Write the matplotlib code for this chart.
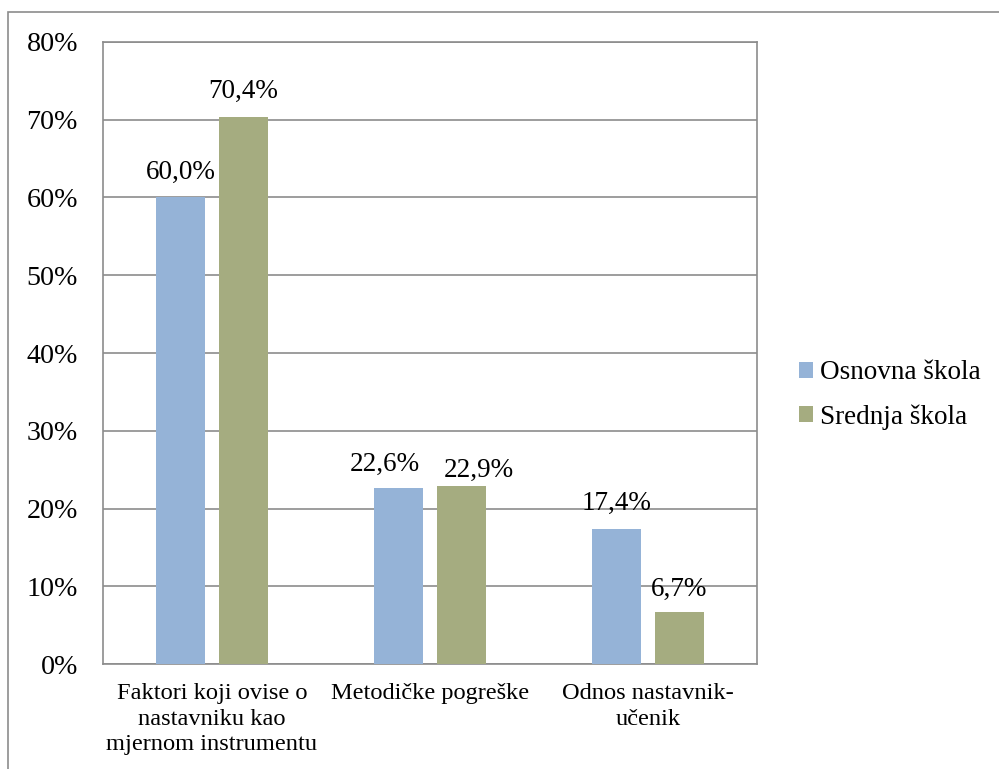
import numpy as np
import matplotlib.pyplot as plt
from matplotlib.patches import Rectangle

plt.rcParams['font.family'] = ['Liberation Serif', 'DejaVu Serif']

categories = ['Faktori koji ovise o\nnastavniku kao\nmjernom instrumentu',
              'Metodičke pogreške',
              'Odnos nastavnik-\nučenik']
osnovna = [60.0, 22.6, 17.4]
srednja = [70.4, 22.9, 6.7]
series_names = ['Osnovna škola', 'Srednja škola']
colors = ['#95B3D7', '#A5AC80']

# label nudges in points (the middle pair is pushed apart so they don't collide)
nudge_osn = [(0, 18), (-10, 17), (0, 18)]
nudge_sre = [(0, 18), (13, 11), (0, 16)]

fig = plt.figure(figsize=(9.99, 7.69), dpi=100)
ax = fig.add_axes([0.1031, 0.1365, 0.6547, 0.8089])

# outer chart border
fig.patches.append(Rectangle((8 / 999, -0.1), 1.2, 1 - 12 / 769 + 0.1,
                             transform=fig.transFigure, fill=False,
                             edgecolor='#8c8c8c', linewidth=1.2))

x = np.arange(len(categories))
w = 0.225
gap = 0.06
off = (w + gap) / 2
b1 = ax.bar(x - off, osnovna, w, color=colors[0], label=series_names[0], zorder=3)
b2 = ax.bar(x + off, srednja, w, color=colors[1], label=series_names[1], zorder=3)

for bars, vals, nudges in ((b1, osnovna, nudge_osn), (b2, srednja, nudge_sre)):
    for b, v, n in zip(bars, vals, nudges):
        ax.annotate(f'{v:.1f}%'.replace('.', ','),
                    (b.get_x() + b.get_width() / 2, v),
                    xytext=n, textcoords='offset points',
                    ha='center', va='center', fontsize=19.5)

ax.set_xlim(-0.5, 2.5)
ax.set_ylim(0, 80)
ax.set_yticks(np.arange(0, 81, 10))
ax.set_yticklabels([f'{t}%' for t in range(0, 81, 10)], fontsize=20.2)
ax.set_xticks(x)
ax.set_xticklabels(categories, fontsize=17.6, linespacing=1.27)
ax.tick_params(axis='both', length=0)
ax.tick_params(axis='y', pad=18)
ax.tick_params(axis='x', pad=14)
ax.grid(axis='y', color='#8c8c8c', linewidth=1.2, zorder=0)
for s in ax.spines.values():
    s.set_color('#8c8c8c')
    s.set_linewidth(1.2)

ax.legend(loc='center left', bbox_to_anchor=(1.027, 0.4325), frameon=False,
          fontsize=19.5, handlelength=0.52, handleheight=0.52, handletextpad=0.26,
          labelspacing=0.7)

fig.savefig('out.png', dpi=100)
